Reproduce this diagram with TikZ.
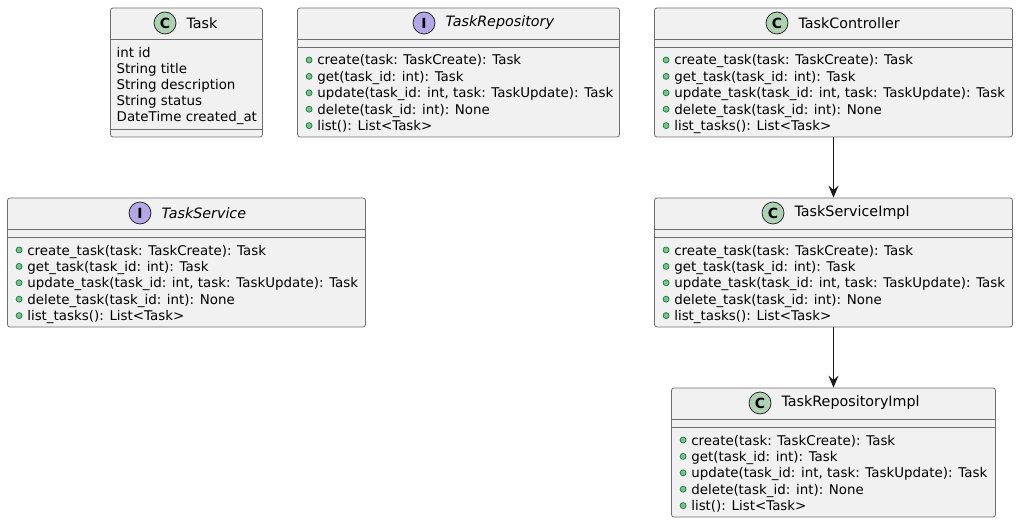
\documentclass[tikz,border=0pt]{standalone}
\usepackage{fontspec}
\setmainfont{DejaVu Sans}
\usetikzlibrary{arrows.meta,positioning}
\definecolor{boxfill}{HTML}{F1F1F1}
\definecolor{boxline}{HTML}{6E6E6E}
\definecolor{arrowline}{HTML}{181818}
\definecolor{classfill}{HTML}{ADD1B2}
\definecolor{ifacefill}{HTML}{B4A7E5}
\definecolor{pubfill}{HTML}{84BE84}
\definecolor{publine}{HTML}{038048}
\tikzset{
  umlbox/.style={draw=boxline,fill=boxfill,line width=0.8pt,rounded corners=2.5pt,inner sep=0pt},
  badge/.style={circle,draw=arrowline,line width=0.7pt,minimum size=22pt,inner sep=0pt,font=\fontsize{14}{14}\selectfont\bfseries},
  title/.style={inner sep=0pt,anchor=west,font=\fontsize{14.3}{14}\selectfont},
  member/.style={inner sep=0pt,anchor=base west,font=\fontsize{13.4}{14}\selectfont},
  pub/.style={circle,draw=publine,fill=pubfill,line width=0.7pt,minimum size=6pt,inner sep=0pt},
  dep/.style={-{Stealth[length=12pt,width=10pt,inset=4.5pt]},draw=arrowline,line width=0.9pt}
}
% box: name, left, top, right, bottom, badge x, badge fill, letter, title
\newcommand{\umlhead}[9]{
  \node[umlbox,minimum width=#4pt-#2pt,minimum height=#5pt-#3pt] (#1) at ({(#2+#4)/2},{(#3+#5)/2}) {};
  \draw[boxline,line width=0.8pt] (#1.west|-0,#3+31.5) -- (#1.east|-0,#3+31.5);
  \node[badge,fill=#7] (#1badge) at (#6,#3+15) {#8};
  \node[title,right=10pt of #1badge] (#1title) {#9};
}
\newcommand{\umlops}[3]{
  \draw[boxline,line width=0.8pt] (#1.west|-0,#2+39.5) -- (#1.east|-0,#2+39.5);
  \foreach \row/\txt [count=\n from 0] in {#3} {
    \node[pub] (#1dot\n) at ([xshift=12pt]#1.west|-0,#2+52+\n*16.4) {};
    \node[member] (#1op\n) at ([xshift=20pt]#1.west|-0,#2+57+\n*16.4) {\txt};
  }
}
\begin{document}
\begin{tikzpicture}[x=1pt,y=-1pt]
\useasboundingbox (0,0) rectangle (1018,524);
% entity
\umlhead{task}{110.5}{8}{262.5}{137}{165}{classfill}{C}{Task}
\draw[boxline,line width=0.8pt] (task.west|-0,129.5) -- (task.east|-0,129.5);
\foreach \row/\txt [count=\n from 0] in {a/int id,b/String title,c/String description,d/String status,e/DateTime created\_at}
  \node[member] (taskattr\n) at (116.5,57.5+\n*16.1) {\txt};
% interfaces
\umlhead{repo}{297.5}{8}{619.5}{137}{424}{ifacefill}{I}{\itshape TaskRepository}
\umlops{repo}{8}{a/create(task: TaskCreate): Task,b/get(task\_id: int): Task,c/update(task\_id: int{,} task: TaskUpdate): Task,d/delete(task\_id: int): None,e/list(): List<Task>}
\umlhead{service}{7.5}{198}{365.5}{327}{140}{ifacefill}{I}{\itshape TaskService}
\umlops{service}{198}{a/create\_task(task: TaskCreate): Task,b/get\_task(task\_id: int): Task,c/update\_task(task\_id: int{,} task: TaskUpdate): Task,d/delete\_task(task\_id: int): None,e/list\_tasks(): List<Task>}
% implementations
\umlhead{ctrl}{654.5}{8}{1012.5}{137}{777}{classfill}{C}{TaskController}
\umlops{ctrl}{8}{a/create\_task(task: TaskCreate): Task,b/get\_task(task\_id: int): Task,c/update\_task(task\_id: int{,} task: TaskUpdate): Task,d/delete\_task(task\_id: int): None,e/list\_tasks(): List<Task>}
\umlhead{serviceimpl}{654.5}{198}{1012.5}{327}{773}{classfill}{C}{TaskServiceImpl}
\umlops{serviceimpl}{198}{a/create\_task(task: TaskCreate): Task,b/get\_task(task\_id: int): Task,c/update\_task(task\_id: int{,} task: TaskUpdate): Task,d/delete\_task(task\_id: int): None,e/list\_tasks(): List<Task>}
\umlhead{repoimpl}{671.5}{388}{995.5}{517}{760}{classfill}{C}{TaskRepositoryImpl}
\umlops{repoimpl}{388}{a/create(task: TaskCreate): Task,b/get(task\_id: int): Task,c/update(task\_id: int{,} task: TaskUpdate): Task,d/delete(task\_id: int): None,e/list(): List<Task>}
% arrows
\draw[dep] (ctrl) -- (serviceimpl);
\draw[dep] (serviceimpl) -- (repoimpl);
\end{tikzpicture}
\end{document}
